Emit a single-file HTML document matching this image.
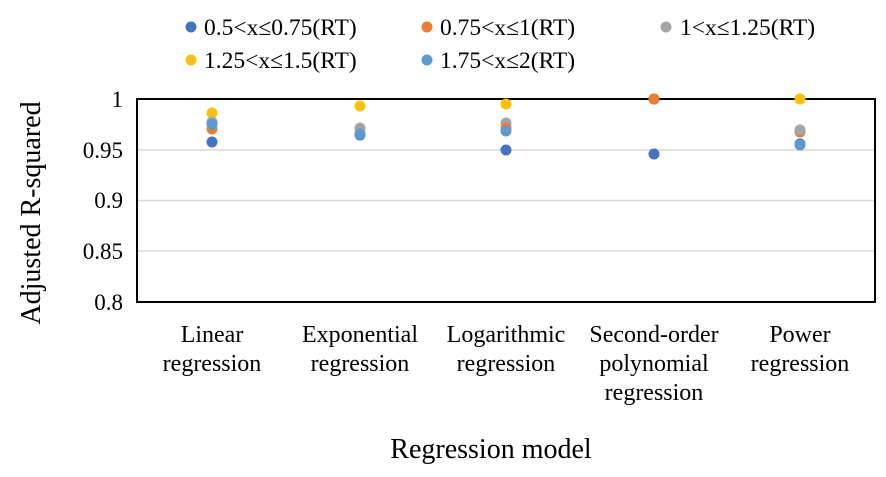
<!DOCTYPE html>
<html><head><meta charset="utf-8"><style>
body{margin:0;background:#fff}
svg text{font-family:"Liberation Serif",serif;fill:#000}
</style></head><body>
<svg width="886" height="472" xmlns="http://www.w3.org/2000/svg">
<g font-size="23.5">
<circle cx="191" cy="27" r="5.5" fill="#4472C4"/><text x="204" y="35">0.5&lt;x≤0.75(RT)</text>
<circle cx="427" cy="27" r="5.5" fill="#ED7D31"/><text x="440" y="35">0.75&lt;x≤1(RT)</text>
<circle cx="666" cy="27" r="5.5" fill="#A5A5A5"/><text x="680" y="35">1&lt;x≤1.25(RT)</text>
<circle cx="191" cy="60" r="5.5" fill="#FFC000"/><text x="204" y="68">1.25&lt;x≤1.5(RT)</text>
<circle cx="427" cy="60" r="5.5" fill="#5B9BD5"/><text x="440" y="68">1.75&lt;x≤2(RT)</text>
</g>
<g stroke="#d9d9d9" stroke-width="1.5">
<line x1="137" x2="875" y1="150" y2="150"/><line x1="137" x2="875" y1="200.5" y2="200.5"/><line x1="137" x2="875" y1="251" y2="251"/>
</g>
<rect x="137" y="99" width="738" height="203" fill="none" stroke="#000" stroke-width="2"/>
<g font-size="23" text-anchor="end">
<text x="123" y="107">1</text><text x="123" y="158">0.95</text><text x="123" y="208">0.9</text><text x="123" y="259">0.85</text><text x="123" y="310">0.8</text>
</g>
<text transform="translate(40,213) rotate(-90)" font-size="28" text-anchor="middle">Adjusted R-squared</text>
<g font-size="24" text-anchor="middle">
<text x="212" y="342">Linear</text><text x="212" y="371">regression</text>
<text x="360" y="342">Exponential</text><text x="360" y="371">regression</text>
<text x="506" y="342">Logarithmic</text><text x="506" y="371">regression</text>
<text x="654" y="342">Second-order</text><text x="654" y="371">polynomial</text><text x="654" y="400">regression</text>
<text x="800" y="342">Power</text><text x="800" y="371">regression</text>
</g>
<text x="491" y="458" font-size="28" text-anchor="middle">Regression model</text>
<g>
<circle cx="654" cy="99" r="5.5" fill="#FFC000"/><circle cx="654" cy="99" r="5.5" fill="#A5A5A5"/><circle cx="654" cy="99" r="5.5" fill="#5B9BD5"/>
<circle cx="212" cy="113" r="5.5" fill="#FFC000"/>
<circle cx="212" cy="122" r="5.5" fill="#A5A5A5"/>
<circle cx="212" cy="129" r="5.5" fill="#ED7D31"/>
<circle cx="212" cy="124" r="5.5" fill="#5B9BD5"/>
<circle cx="212" cy="142" r="5.5" fill="#4472C4"/>
<circle cx="360" cy="135" r="5.5" fill="#4472C4"/>
<circle cx="360" cy="106" r="5.5" fill="#FFC000"/>
<circle cx="360" cy="128" r="5.5" fill="#A5A5A5"/>
<circle cx="360" cy="134" r="5.5" fill="#ED7D31"/>
<circle cx="360" cy="134" r="5.5" fill="#5B9BD5"/>
<circle cx="506" cy="104" r="5.5" fill="#FFC000"/>
<circle cx="506" cy="123" r="5.5" fill="#A5A5A5"/>
<circle cx="506" cy="128" r="5.5" fill="#ED7D31"/>
<circle cx="506" cy="131" r="5.5" fill="#5B9BD5"/>
<circle cx="506" cy="150" r="5.5" fill="#4472C4"/>
<circle cx="654" cy="99" r="5.5" fill="#ED7D31"/>
<circle cx="654" cy="154" r="5.5" fill="#4472C4"/>
<circle cx="800" cy="99" r="5.5" fill="#FFC000"/>
<circle cx="800" cy="132" r="5.5" fill="#ED7D31"/>
<circle cx="800" cy="130" r="5.5" fill="#A5A5A5"/>
<circle cx="800" cy="144" r="5.5" fill="#4472C4"/>
<circle cx="800" cy="145" r="5.5" fill="#5B9BD5"/>
</g>
</svg>
</body></html>
